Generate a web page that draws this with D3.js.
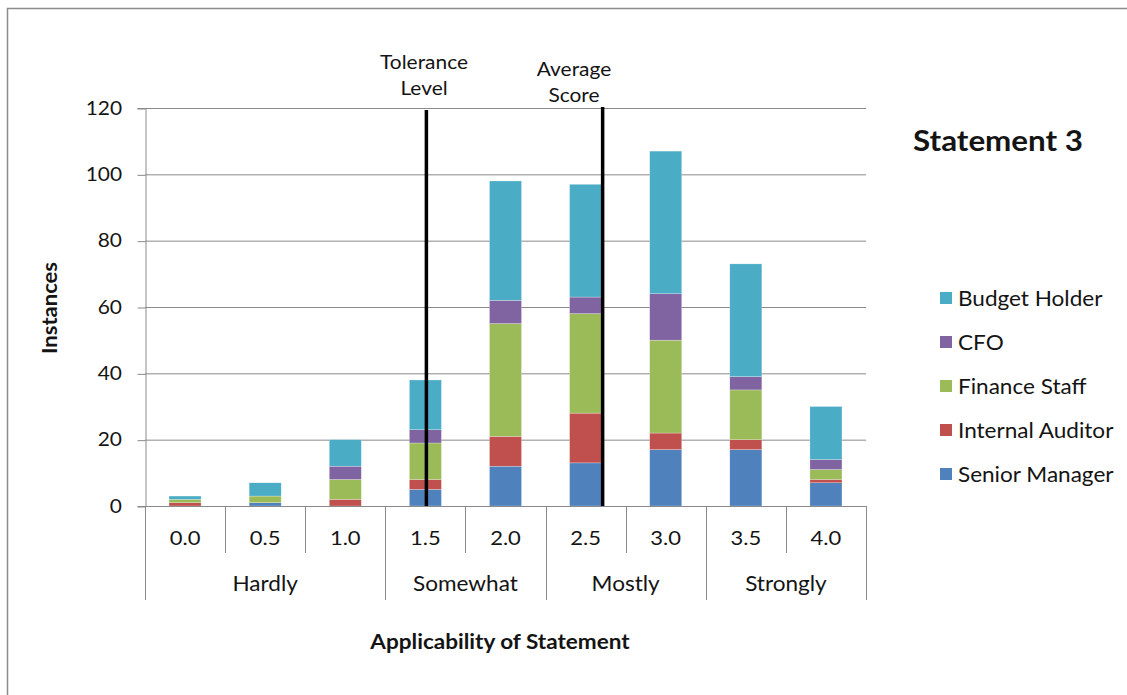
<!DOCTYPE html>
<html>
<head>
<meta charset="utf-8">
<script src="https://cdn.jsdelivr.net/npm/d3@7"></script>
<style>
  html, body { margin: 0; padding: 0; background: #fff; }
  svg { display: block; font-family: Lato, "Open Sans", sans-serif; }
</style>
</head>
<body>
<svg id="chart" width="1127" height="695"></svg>
<script>
// Score categories along the x axis and their verbal groups
const scores = ["0.0", "0.5", "1.0", "1.5", "2.0", "2.5", "3.0", "3.5", "4.0"];
const groups = [
  { label: "Hardly", from: "0.0", to: "1.0" },
  { label: "Somewhat", from: "1.5", to: "2.0" },
  { label: "Mostly", from: "2.5", to: "3.0" },
  { label: "Strongly", from: "3.5", to: "4.0" }
];

// Stacked series, bottom to top
const seriesNames = ["Senior Manager", "Internal Auditor", "Finance Staff", "CFO", "Budget Holder"];
const seniorManager   = [0, 1, 0, 5, 12, 13, 17, 17, 7];
const internalAuditor = [1, 0, 2, 3, 9, 15, 5, 3, 1];
const financeStaff    = [1, 2, 6, 11, 34, 30, 28, 15, 3];
const cfo             = [0, 0, 4, 4, 7, 5, 14, 4, 3];
const budgetHolder    = [1, 4, 8, 15, 36, 34, 43, 34, 16];
const seriesColors = ["#4F81BD", "#C0504D", "#9BBB59", "#8064A2", "#4BACC6"];

// Reference markers on the score axis
const markers = [
  { lines: ["Tolerance", "Level"], score: 1.5 },
  { lines: ["Average", "Score"], score: 2.6 }
];

const yTicks = [0, 20, 40, 60, 80, 100, 120];

const svg = d3.select("#chart");
const margin = { left: 145, right: 866, top: 108, bottom: 506 };
const SX = 1.1;          // slight horizontal widening of the lettering
const ink = "#141414";

// Text helper: places text at (x, y) with a horizontal stretch
function label(parent, x, y, str, size, opts = {}) {
  const t = parent.append("text")
    .attr("transform", `translate(${x},${y})${opts.rotate ? ` rotate(${opts.rotate})` : ""} scale(${SX},1)`)
    .attr("text-anchor", opts.anchor || "middle")
    .attr("font-size", size)
    .attr("font-weight", opts.bold ? "bold" : null)
    .attr("fill", ink)
    .text(str);
  return t;
}

// Outer chart frame
svg.append("path")
  .attr("d", "M7.5,700 V8.5 H1130")
  .attr("fill", "none").attr("stroke", "#8c8c8c").attr("stroke-width", 1.5);

const x = d3.scaleBand().domain(scores).range([margin.left, margin.right]).paddingInner(0.6).paddingOuter(0.3);
const band = d3.scaleBand().domain(scores).range([margin.left, margin.right]);
const y = d3.scaleLinear().domain([0, 120]).range([margin.bottom, margin.top]);
// continuous score scale aligned with the category centres
const s = d3.scaleLinear().domain([0, 4]).range([band("0.0") + band.bandwidth() / 2, band("4.0") + band.bandwidth() / 2]);

// Gridlines
svg.append("g").selectAll("line").data(yTicks.slice(1)).join("line")
  .attr("x1", margin.left).attr("x2", margin.right)
  .attr("y1", d => y(d) + 0.5).attr("y2", d => y(d) + 0.5)
  .attr("stroke", "#8a8a8a").attr("stroke-width", 1);

// Y axis
const yAxis = svg.append("g").attr("transform", `translate(${margin.left + 0.5},0)`)
  .call(d3.axisLeft(y).tickValues(yTicks).tickSize(8).tickFormat(""));
yAxis.select(".domain").attr("stroke", "#8a8a8a");
yAxis.selectAll(".tick line").attr("stroke", "#8a8a8a").attr("transform", "translate(0,0.5)");
const yLabels = svg.append("g");
yTicks.forEach(v => label(yLabels, 122, y(v) + 6.5, String(v), 19, { anchor: "end" }));

// Stacked bars
const rows = scores.map((sc, i) => ({
  score: sc,
  "Senior Manager": seniorManager[i],
  "Internal Auditor": internalAuditor[i],
  "Finance Staff": financeStaff[i],
  "CFO": cfo[i],
  "Budget Holder": budgetHolder[i]
}));
const stacked = d3.stack().keys(seriesNames)(rows);
svg.append("g").selectAll("g").data(stacked).join("g")
  .attr("fill", (d, i) => seriesColors[i])
  .selectAll("rect").data(d => d).join("rect")
  .attr("x", d => x(d.data.score))
  .attr("width", x.bandwidth())
  .attr("y", d => y(d[1]))
  .attr("height", d => y(d[0]) - y(d[1]))
  .attr("stroke", "rgba(255,255,255,0.5)").attr("stroke-width", 0.5);

// X axis baseline and category separators
const axisColor = "#8a8a8a";
svg.append("line")
  .attr("x1", margin.left).attr("x2", margin.right)
  .attr("y1", margin.bottom + 0.5).attr("y2", margin.bottom + 0.5)
  .attr("stroke", axisColor);

const groupEdges = [band("0.0")].concat(groups.map(g => band(g.to) + band.bandwidth()));
const edges = scores.map(sc => band(sc)).concat([band("4.0") + band.bandwidth()]);
svg.append("g").selectAll("line").data(edges).join("line")
  .attr("x1", d => Math.round(d) + 0.5).attr("x2", d => Math.round(d) + 0.5)
  .attr("y1", margin.bottom)
  .attr("y2", d => groupEdges.some(e => Math.abs(e - d) < 0.5) ? 600 : 553)
  .attr("stroke", axisColor);

// Score labels
const xLabels = svg.append("g");
scores.forEach(sc => label(xLabels, band(sc) + band.bandwidth() / 2, 545, sc, 20));

// Group labels
const gLabels = svg.append("g");
groups.forEach(g => label(gLabels, (band(g.from) + band(g.to) + band.bandwidth()) / 2, 591, g.label, 20.5));

// Reference lines and their labels
markers.forEach((m, i) => {
  svg.append("line")
    .attr("x1", s(m.score) + 1).attr("x2", s(m.score) + 1)
    .attr("y1", i === 0 ? 110 : 107).attr("y2", margin.bottom)
    .attr("stroke", "#000").attr("stroke-width", 3.5);
});
const markerLabelPos = [{ x: 424, y: 69 }, { x: 574, y: 76 }];
const mLabels = svg.append("g");
markers.forEach((m, i) => {
  m.lines.forEach((ln, j) => label(mLabels, markerLabelPos[i].x, markerLabelPos[i].y + j * 26, ln, 19));
});

// Axis titles
label(svg, 500, 649, "Applicability of Statement", 20.5, { bold: true });
label(svg, 57, 308, "Instances", 20, { bold: true, rotate: -90 });

// Title
label(svg, 998, 151, "Statement 3", 28.5, { bold: true });

// Legend, top entry is the top of the stack
const legendItems = seriesNames.map((n, i) => ({ name: n, color: seriesColors[i] })).reverse();
const legend = svg.append("g");
legendItems.forEach((d, i) => {
  const cy = 298 + i * 44;
  legend.append("rect").attr("x", 940).attr("y", cy - 6).attr("width", 12).attr("height", 12).attr("fill", d.color);
  label(legend, 958, cy + 7.5, d.name, 20.5, { anchor: "start" });
});
</script>
</body>
</html>
